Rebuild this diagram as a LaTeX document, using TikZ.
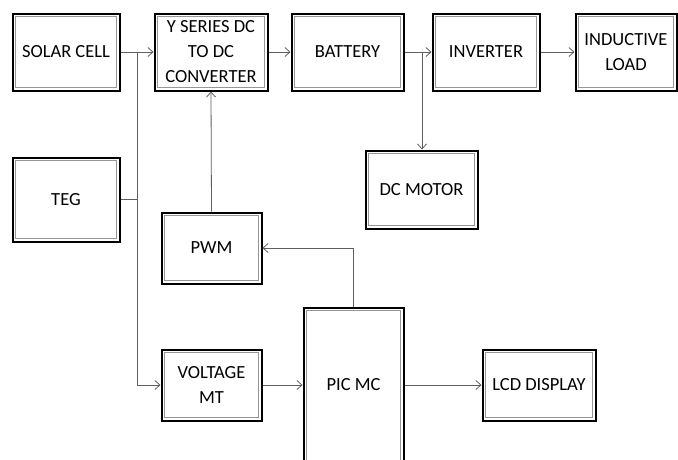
\documentclass[tikz,border=0pt]{standalone}
\usepackage{fontspec}
\setmainfont{Carlito}
\usepackage{tikz}
\usetikzlibrary{arrows.meta,positioning,calc}
\definecolor{wiregrey}{RGB}{95,95,95}
\definecolor{innergrey}{RGB}{150,150,150}

\begin{document}
\begin{tikzpicture}[x=1pt, y=-1pt,
    blk/.style={rectangle, draw=black, line width=2pt, fill=white, align=center,
        font=\fontsize{18.5}{25}\selectfont, inner sep=0pt,
        path picture={\draw[innergrey, line width=0.9pt]
            ([shift={(2.6pt,2.6pt)}]path picture bounding box.south west) rectangle
            ([shift={(-2.6pt,-2.6pt)}]path picture bounding box.north east);}},
    arrow/.style={-{Straight Barb[length=5pt,width=9pt]}, draw=wiregrey, line width=0.8pt},
    wire/.style={draw=wiregrey, line width=0.8pt}
]
\clip (0,0) rectangle (678,459);
\fill[white] (0,0) rectangle (678,459);

% top row
\node[blk, minimum width=107pt, minimum height=77pt] (solar) at (66,52) {SOLAR CELL};
\node[blk, minimum width=113pt, minimum height=77pt] (conv) at (211,52) {Y SERIES DC\\TO DC\\CONVERTER};
\node[blk, minimum width=112pt, minimum height=77pt] (batt) at (347.5,52) {BATTERY};
\node[blk, minimum width=107pt, minimum height=77pt] (inv) at (486,52) {INVERTER};
\node[blk, minimum width=101pt, minimum height=77pt] (load) at (626,52) {INDUCTIVE\\LOAD};

% middle
\node[blk, minimum width=107pt, minimum height=84pt] (teg) at (66,199.5) {TEG};
\node[blk, minimum width=112pt, minimum height=78pt] (motor) at (421.5,189.5) {DC MOTOR};
\node[blk, minimum width=100pt, minimum height=71pt] (pwm) at (211.5,248) {PWM};

% bottom row
\node[blk, minimum width=100pt, minimum height=71pt] (volt) at (211.5,385) {VOLTAGE\\MT};
\node[blk, minimum width=100pt, minimum height=170pt] (pic) at (353.5,393) {};
\node[font=\fontsize{18.5}{25}\selectfont] (piclbl) at (353.5,385) {PIC MC};
\node[blk, minimum width=113pt, minimum height=71pt] (lcd) at (539,385) {LCD DISPLAY};

% junctions
\coordinate (jsol) at (137,52);
\coordinate (jbat) at (422,52);
\coordinate (jpic) at (pic.north |- pwm.east);

\draw[arrow] (solar) -- (conv);
\draw[arrow] (conv) -- (batt);
\draw[arrow] (batt) -- (inv);
\draw[arrow] (inv) -- (load);
\draw[arrow] (jbat) -- (jbat |- motor.north);
\draw[arrow] (jsol) |- (volt.west);
\draw[wire] (teg.east) -- (jsol |- teg.east);
\draw[arrow] (pwm.north) -- (conv.south);
\draw[arrow] (pic.north) -- (jpic) -- (pwm.east);
\draw[arrow] (volt.east) -- (volt.east -| pic.west);
\draw[arrow] (pic.east |- lcd.west) -- (lcd.west);
\end{tikzpicture}
\end{document}
